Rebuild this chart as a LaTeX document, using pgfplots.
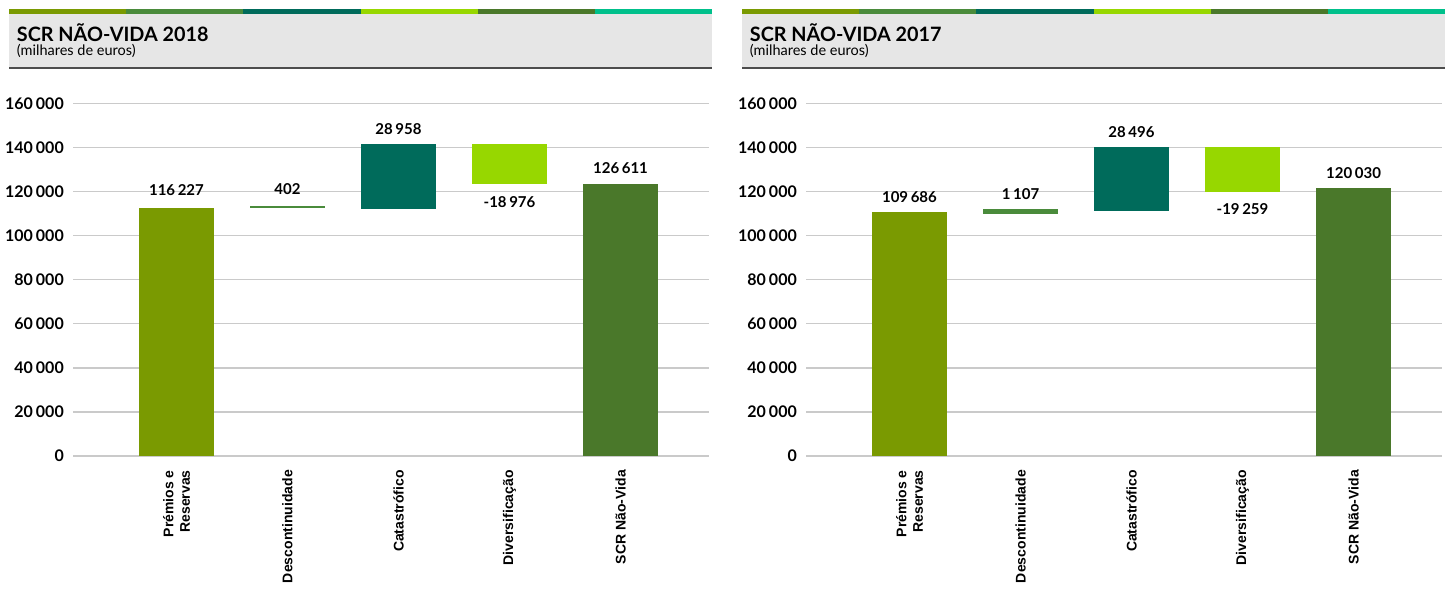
\documentclass[border=0pt]{standalone}
\usepackage{pgfplots}
\usepackage{pgfplotstable}
\pgfplotsset{compat=1.18}
\usepackage{fontspec}
\setmainfont{Lato}
\newfontfamily\arialf{Liberation Sans}
\definecolor{cA}{HTML}{7A9A01}
\definecolor{cB}{HTML}{4A8B3B}
\definecolor{cC}{HTML}{006B5B}
\definecolor{cD}{HTML}{97D700}
\definecolor{cE}{HTML}{4A782A}
\definecolor{cF}{HTML}{00C08B}
\definecolor{hdr}{HTML}{E6E6E6}
\definecolor{hline}{HTML}{4D4D4D}
\definecolor{gridc}{HTML}{CACACA}
\newcommand\ts{\kern2.6bp}

\pgfplotstableread{
x base a b c d e
0 0 112360 0 0 0 0
1 112360 0 1040 0 0 0
2 112180 0 0 29350 0 0
3 123390 0 0 0 18140 0
4 0 0 0 0 0 123390
}\dataA

\pgfplotstableread{
x base a b c d e
0 0 110550 0 0 0 0
1 109910 0 2270 0 0 0
2 111140 0 0 28890 0 0
3 119890 0 0 0 20140 0
4 0 0 0 0 0 121570
}\dataB

\tikzset{lab/.style={font=\bfseries\fontsize{15bp}{16bp}\selectfont, inner sep=0pt, anchor=center}}

\pgfplotsset{
  wf/.style={
    scale only axis, width=636bp, height=352.7bp,
    anchor=south west,
    xmin=-0.932, xmax=4.797, ymin=0, ymax=160000,
    ytick={0,20000,...,160000},
    xtick={0,1,2,3,4},
    xticklabels={{Prémios e\\Reservas},Descontinuidade,Catastrófico,Diversificação,SCR Não-Vida},
    ymajorgrids, grid style={color=gridc, line width=1.4bp},
    axis line style={draw=none}, tick style={draw=none},
    /pgf/number format/assume math mode=true,
    /pgf/number format/.cd, 1000 sep={\kern3bp}, fixed, precision=0, /pgfplots/.cd,
    scaled y ticks=false,
    yticklabel style={font=\bfseries\fontsize{16bp}{17bp}\selectfont, inner sep=0pt, anchor=east},
    yticklabel shift=9bp,
    xticklabel style={font=\arialf\bfseries\fontsize{14bp}{16.5bp}\selectfont, rotate=90, anchor=east, align=right, inner sep=0pt},
    xticklabel shift=14bp,
    ybar stacked, bar width=75bp,
    clip=false,
  },
}

\begin{document}
\begin{tikzpicture}[x=1bp,y=1bp]
\useasboundingbox (0,0) rectangle (1453,-610);
% headers
\foreach \ox/\yr in {0/2018,733/2017}{
  \fill[hdr] (9+\ox,-14) rectangle (712+\ox,-67);
  \fill[hline] (9+\ox,-67) rectangle (712+\ox,-69);
  \fill[cA] (9+\ox,-9) rectangle (126.2+\ox,-14);
  \fill[cB] (126.2+\ox,-9) rectangle (243.3+\ox,-14);
  \fill[cC] (243.3+\ox,-9) rectangle (360.5+\ox,-14);
  \fill[cD] (360.5+\ox,-9) rectangle (477.7+\ox,-14);
  \fill[cE] (477.7+\ox,-9) rectangle (594.8+\ox,-14);
  \fill[cF] (594.8+\ox,-9) rectangle (712+\ox,-14);
  \node[anchor=base west, inner sep=0pt, font=\bfseries\fontsize{19.8bp}{21bp}\selectfont] at (16.7+\ox,-41.7) {SCR NÃO-VIDA \yr};
  \node[anchor=base west, inner sep=0pt, font=\fontsize{14.5bp}{16bp}\selectfont] at (16.7+\ox,-55.8) {(milhares de euros)};
}
\begin{axis}[wf, at={(73bp,-456bp)}]
\addplot[fill=none, draw=none] table[x=x,y=base]{\dataA};
\addplot[fill=cA, draw=none] table[x=x,y=a]{\dataA};
\addplot[fill=cB, draw=none] table[x=x,y=b]{\dataA};
\addplot[fill=cC, draw=none] table[x=x,y=c]{\dataA};
\addplot[fill=cD, draw=none] table[x=x,y=d]{\dataA};
\addplot[fill=cE, draw=none] table[x=x,y=e]{\dataA};
\node[lab] at (axis cs:0,120420) {116\ts227};
\node[lab] at (axis cs:1,121120) {402};
\node[lab] at (axis cs:2,148430) {28\ts958};
\node[lab] at (axis cs:3,115220) {-18\ts976};
\node[lab] at (axis cs:4,130640) {126\ts611};
\end{axis}
\begin{axis}[wf, at={(806bp,-456bp)}]
\addplot[fill=none, draw=none] table[x=x,y=base]{\dataB};
\addplot[fill=cA, draw=none] table[x=x,y=a]{\dataB};
\addplot[fill=cB, draw=none] table[x=x,y=b]{\dataB};
\addplot[fill=cC, draw=none] table[x=x,y=c]{\dataB};
\addplot[fill=cD, draw=none] table[x=x,y=d]{\dataB};
\addplot[fill=cE, draw=none] table[x=x,y=e]{\dataB};
\node[lab] at (axis cs:0,117400) {109\ts686};
\node[lab] at (axis cs:1,118940) {1\ts107};
\node[lab] at (axis cs:2,147110) {28\ts496};
\node[lab] at (axis cs:3,111820) {-19\ts259};
\node[lab] at (axis cs:4,128470) {120\ts030};
\end{axis}
\end{tikzpicture}
\end{document}
